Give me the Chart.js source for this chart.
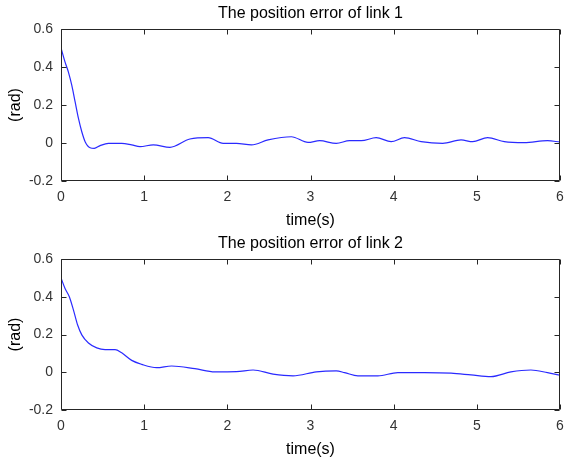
<!DOCTYPE html>
<html>
<head>
<meta charset="utf-8">
<script src="https://cdn.jsdelivr.net/npm/chart.js@4/dist/chart.umd.min.js"></script>
<style>
  html, body { margin: 0; padding: 0; background: #fff; }
  #wrap { position: relative; width: 565px; height: 463px; background: #fff; }
  canvas { position: absolute; left: 0; }
</style>
</head>
<body>
<div id="wrap">
  <canvas id="c1" width="565" height="230" style="top:0px"></canvas>
  <canvas id="c2" width="565" height="233" style="top:230px"></canvas>
</div>
<script>
// ---- data ----
const titles = ["The position error of link 1", "The position error of link 2"];
const xLabel = "time(s)";
const yLabel = "(rad)";
const xTicks = [0, 1, 2, 3, 4, 5, 6];
const yTicks = [-0.2, 0, 0.2, 0.4, 0.6];

const time1 = [0, 0.05, 0.09, 0.13, 0.17, 0.21, 0.25, 0.29, 0.35, 0.40, 0.47, 0.57, 0.73, 0.85, 0.95, 1.11, 1.31, 1.55, 1.77, 1.95, 2.11, 2.29, 2.49, 2.77, 2.97, 3.11, 3.31, 3.47, 3.61, 3.79, 3.97, 4.13, 4.33, 4.59, 4.81, 4.95, 5.13, 5.33, 5.57, 5.85, 6.0];
const error1 = [0.50, 0.424, 0.372, 0.303, 0.216, 0.129, 0.059, 0.007, -0.025, -0.028, -0.014, -0.002, -0.002, -0.010, -0.019, -0.010, -0.023, 0.021, 0.028, -0.002, -0.002, -0.010, 0.016, 0.033, 0.003, 0.012, -0.002, 0.012, 0.012, 0.028, 0.007, 0.028, 0.007, -0.002, 0.016, 0.007, 0.028, 0.007, 0.002, 0.012, 0.005];

const time2 = [0, 0.05, 0.10, 0.15, 0.20, 0.25, 0.33, 0.43, 0.53, 0.65, 0.73, 0.85, 0.97, 1.15, 1.33, 1.61, 1.85, 2.11, 2.31, 2.55, 2.79, 3.07, 3.31, 3.41, 3.57, 3.81, 4.05, 4.37, 4.69, 4.93, 5.17, 5.41, 5.65, 5.85, 6.0];
const error2 = [0.50, 0.442, 0.400, 0.329, 0.250, 0.198, 0.155, 0.129, 0.120, 0.120, 0.103, 0.063, 0.042, 0.024, 0.033, 0.019, 0.002, 0.003, 0.012, -0.010, -0.019, 0.002, 0.007, -0.002, -0.019, -0.019, -0.002, -0.002, -0.005, -0.014, -0.023, 0.002, 0.012, -0.002, -0.016];

// ---- rendering ----
const FONT = "'Liberation Sans', Arial, Helvetica, sans-serif";
const AXIS_COLOR = '#262626';

const boxPlugin = {
  id: 'matlabBox',
  afterDraw(chart) {
    const { ctx, chartArea: a, scales: { x, y } } = chart;
    const L = Math.round(a.left) + 0.5, R = Math.round(a.right) - 0.5;
    const T = Math.round(a.top) + 0.5, B = Math.round(a.bottom) - 0.5;
    const tl = 5;
    ctx.save();
    ctx.strokeStyle = AXIS_COLOR;
    ctx.lineWidth = 1;
    ctx.beginPath();
    ctx.rect(L, T, R - L, B - T);
    xTicks.forEach(v => {
      const px = Math.round(x.getPixelForValue(v)) + 0.5;
      ctx.moveTo(px, B); ctx.lineTo(px, B - tl);
      ctx.moveTo(px, T); ctx.lineTo(px, T + tl);
    });
    yTicks.forEach(v => {
      const py = Math.round(y.getPixelForValue(v)) + 0.5;
      ctx.moveTo(L, py); ctx.lineTo(L + tl, py);
      ctx.moveTo(R, py); ctx.lineTo(R - tl, py);
    });
    ctx.stroke();
    ctx.restore();
  }
};

function makeChart(id, title, times, values, xAxisHeight, xTitlePadBottom) {
  const pts = times.map((t, i) => ({ x: t, y: values[i] }));
  return new Chart(document.getElementById(id), {
    type: 'line',
    data: {
      datasets: [{
        data: pts,
        borderColor: '#2a2aff',
        borderWidth: 1.2,
        pointRadius: 0,
        fill: false,
        cubicInterpolationMode: 'monotone'
      }]
    },
    options: {
      responsive: false,
      animation: false,
      devicePixelRatio: 1,
      layout: { padding: { left: 0, right: 5, top: 0, bottom: 0 } },
      plugins: {
        legend: { display: false },
        tooltip: { enabled: false },
        title: {
          display: true,
          fullSize: false,
          text: title,
          color: '#000',
          font: { family: FONT, size: 16, weight: 'normal', lineHeight: 1.2 },
          padding: { top: 4, bottom: 5.8 }
        }
      },
      scales: {
        x: {
          type: 'linear',
          min: 0, max: 6,
          afterBuildTicks: s => { s.ticks = xTicks.map(v => ({ value: v })); },
          afterFit: s => { s.height = xAxisHeight; s.paddingLeft = 0; s.paddingRight = 0; },
          grid: { display: false, drawTicks: false },
          border: { display: false },
          ticks: {
            color: '#333',
            font: { family: FONT, size: 14 },
            padding: 8,
            maxRotation: 0,
            callback: v => String(v)
          },
          title: {
            display: true,
            text: xLabel,
            color: '#000',
            font: { family: FONT, size: 16, lineHeight: 1.2 },
            padding: { top: 0, bottom: xTitlePadBottom }
          }
        },
        y: {
          type: 'linear',
          min: -0.2, max: 0.6,
          afterBuildTicks: s => { s.ticks = yTicks.map(v => ({ value: v })); },
          afterFit: s => { s.width = 61; s.paddingTop = 0; s.paddingBottom = 0; },
          grid: { display: false, drawTicks: false },
          border: { display: false },
          ticks: {
            color: '#333',
            font: { family: FONT, size: 14 },
            padding: 8,
            callback: v => String(Math.round(v * 10) / 10)
          },
          title: {
            display: true,
            text: yLabel,
            color: '#000',
            font: { family: FONT, size: 16, lineHeight: 1.2 },
            padding: { top: 6, bottom: 0 }
          }
        }
      }
    },
    plugins: [boxPlugin]
  });
}

makeChart('c1', titles[0], time1, error1, 49, 0);
makeChart('c2', titles[1], time2, error2, 53, 3.4);
</script>
</body>
</html>
